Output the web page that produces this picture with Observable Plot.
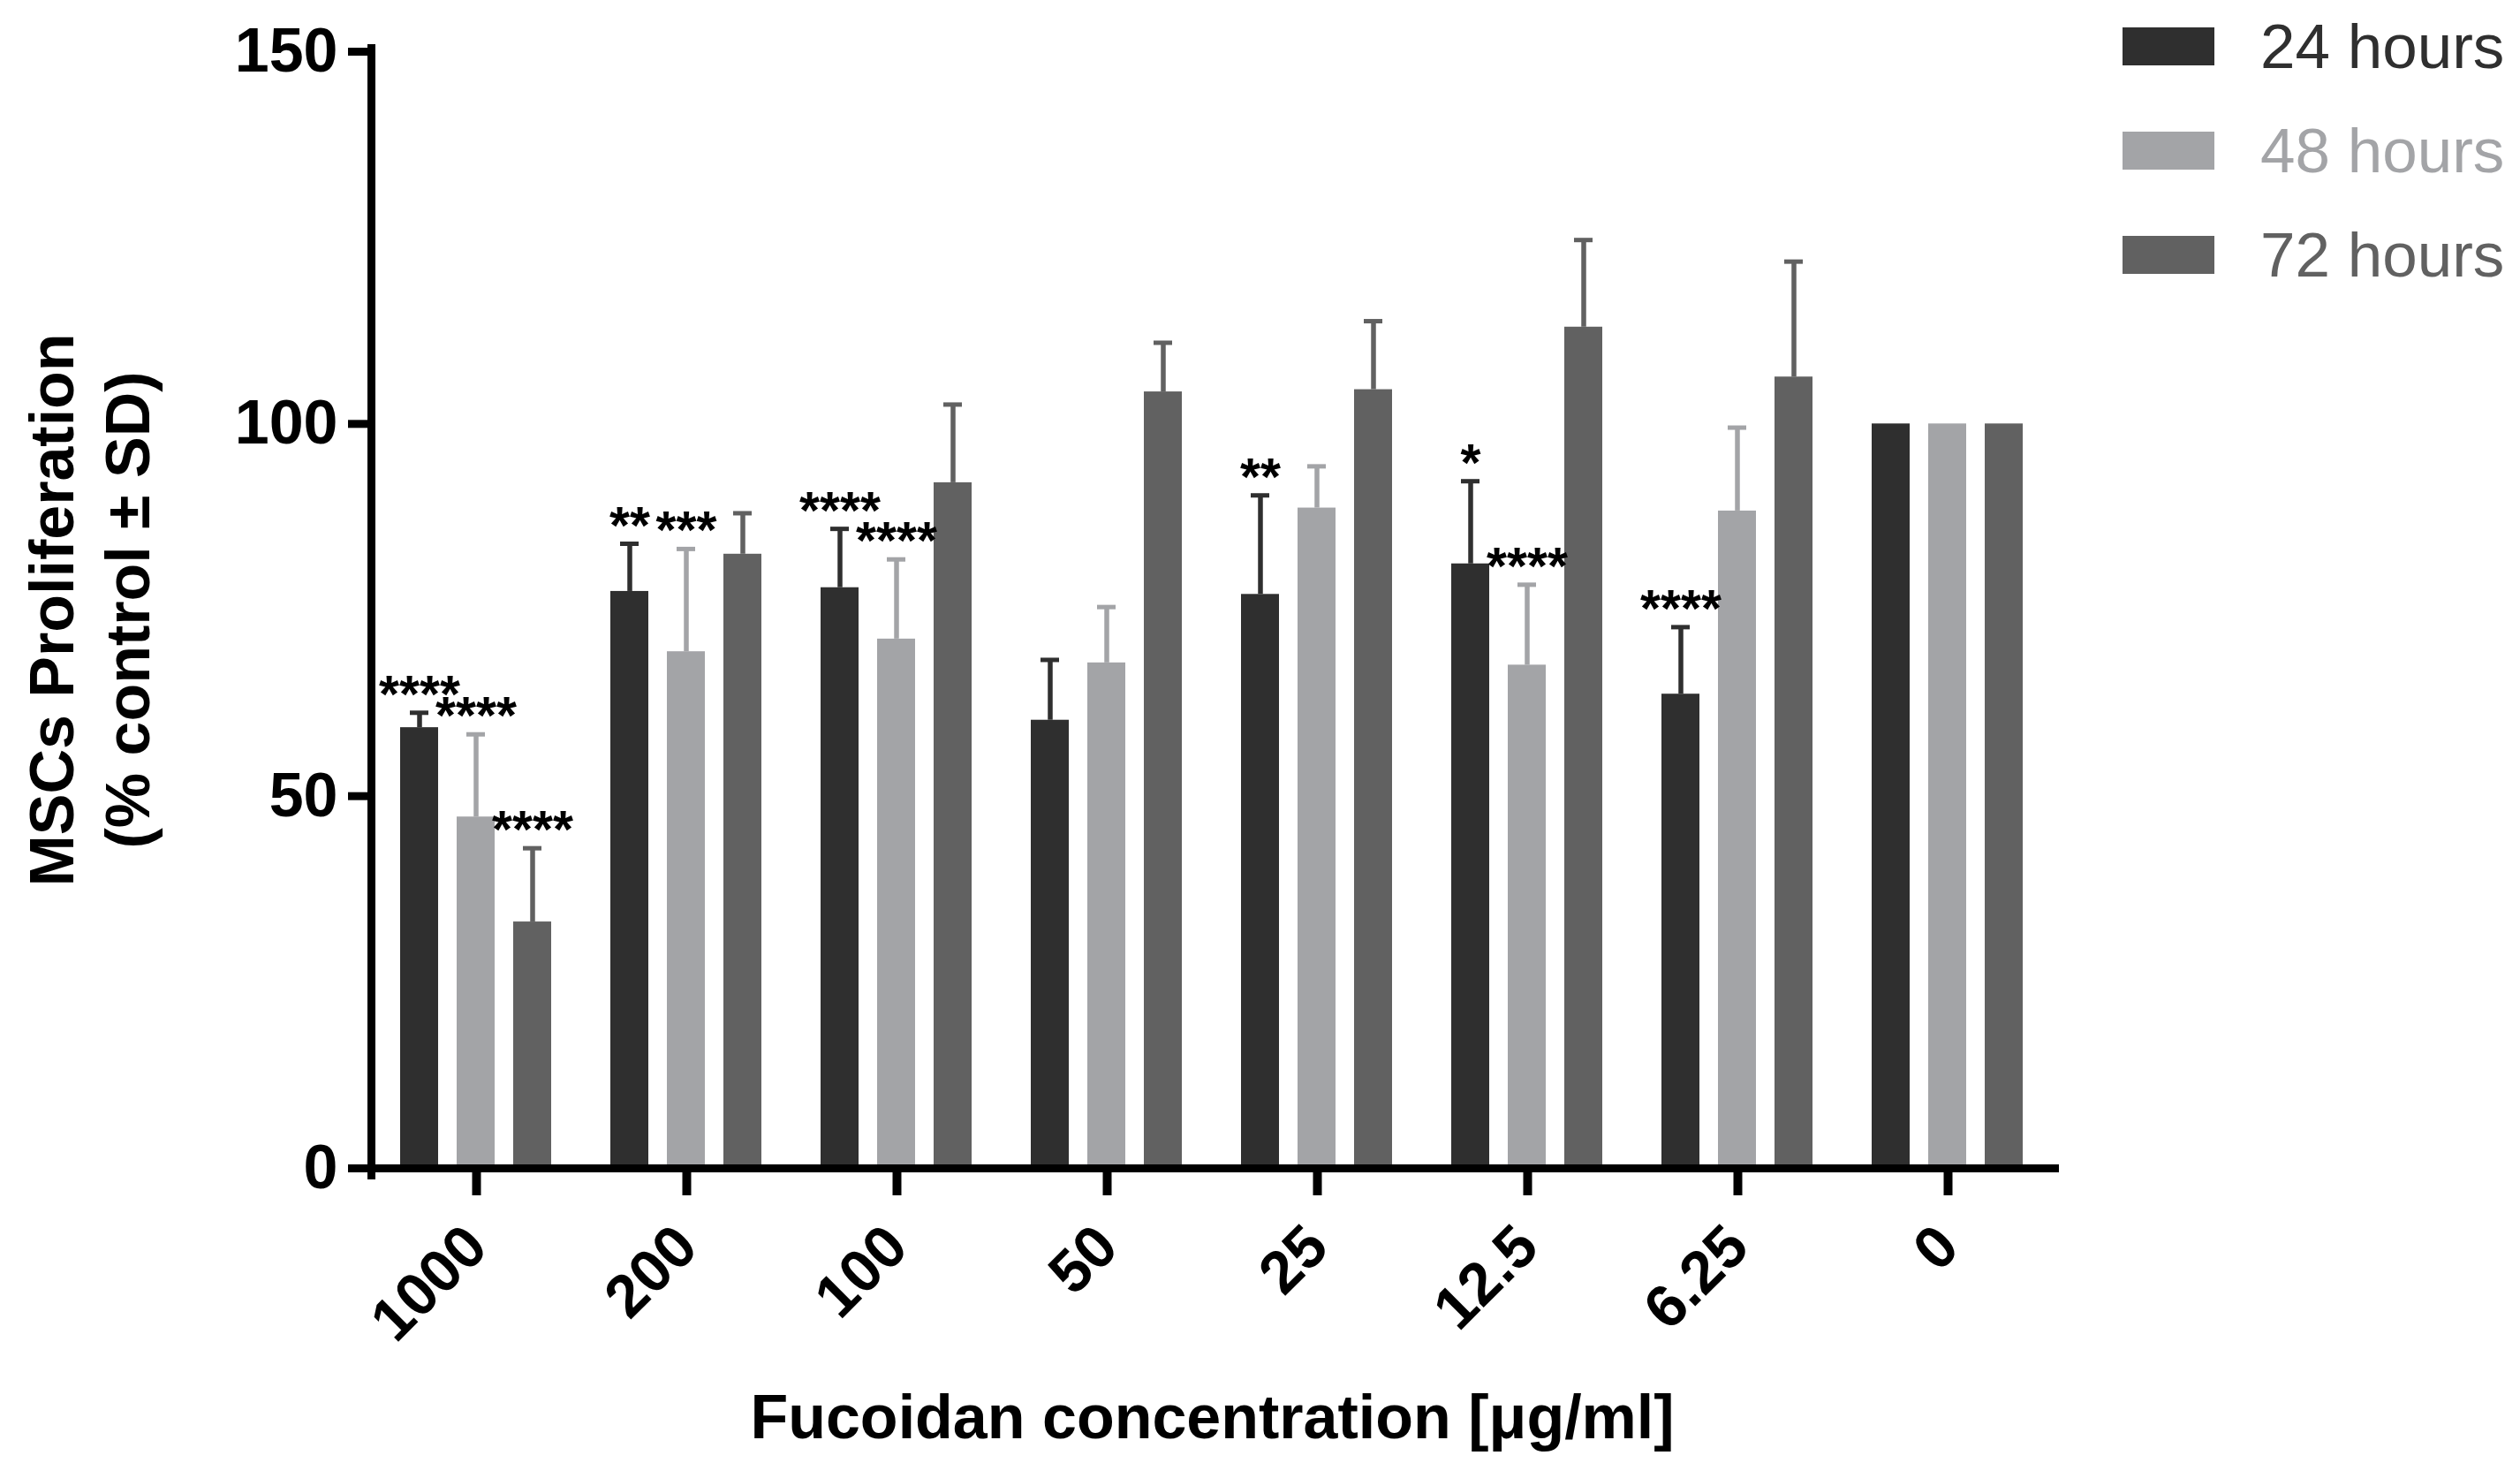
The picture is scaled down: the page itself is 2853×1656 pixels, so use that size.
<!DOCTYPE html>
<html>
<head>
<meta charset="utf-8">
<script src="https://cdn.jsdelivr.net/npm/d3@7"></script>
<script src="https://cdn.jsdelivr.net/npm/@observablehq/plot@0.6"></script>
<style>
  html, body { margin: 0; padding: 0; background: #fff; }
  #wrap { position: relative; width: 2853px; height: 1656px; }
  #legend { position: absolute; left: 2403px; top: 31px; font-family: 'Liberation Sans', Arial, sans-serif; }
  .row { display: flex; align-items: center; height: 43px; margin-bottom: 75px; }
  .sw { width: 104px; height: 43px; }
  .lab { margin-left: 52px; font-size: 71px; line-height: 43px; white-space: nowrap; }
</style>
</head>
<body>
<div id="wrap"><div id="legend"></div></div>
<script>
const concentrations = ["1000", "200", "100", "50", "25", "12.5", "6.25", "0"];
const series = ["24 hours", "48 hours", "72 hours"];
const colors = ["#2f2f2f", "#a3a4a7", "#616161"];

const mean24 = [59.2, 77.5, 78.0, 60.2, 77.1, 81.2, 63.7, 100];
const mean48 = [47.2, 69.4, 71.1, 67.9, 88.7, 67.6, 88.3, 100];
const mean72 = [33.1, 82.5, 92.1, 104.3, 104.6, 113.0, 106.3, 100];

const sd24 = [2.0, 6.4, 7.9, 8.1, 13.3, 11.1, 9.0, 0];
const sd48 = [11.1, 13.8, 10.7, 7.5, 5.6, 10.8, 11.2, 0];
const sd72 = [9.9, 5.5, 10.5, 6.6, 9.2, 11.7, 15.5, 0];

const stars24 = ["****", "**", "****", "", "**", "*", "****", ""];
const stars48 = ["****", "***", "****", "", "", "****", "", ""];
const stars72 = ["****", "", "", "", "", "", "", ""];

const yTicks = [0, 50, 100, 150];
const xLabel = "Fucoidan concentration [\u03bcg/ml]";
const yLabel = "MSCs Proliferation\n(% control \u00b1 SD)";

const means = [mean24, mean48, mean72];
const sds = [sd24, sd48, sd72];
const starSets = [stars24, stars48, stars72];

const rows = [];
concentrations.forEach((c, i) => {
  series.forEach((s, j) => {
    rows.push({conc: c, series: s, mean: means[j][i], sd: sds[j][i], stars: starSets[j][i]});
  });
});
const withErr = rows.filter(d => d.sd > 0);
const withStars = rows.filter(d => d.stars);
const errTop = d => d.mean + d.sd;

const font = "'Liberation Sans', Arial, sans-serif";

const chart = Plot.plot({
  width: 2853,
  height: 1656,
  marginLeft: 420,
  marginRight: 529,
  marginTop: 58,
  marginBottom: 334,
  style: {fontFamily: font, background: "white", color: "black"},
  fx: {domain: concentrations, padding: 0},
  x: {domain: series, paddingInner: 0.325, paddingOuter: 0.5, axis: null},
  y: {domain: [0, 150]},
  color: {domain: series, range: colors},
  marks: [
    Plot.barY(rows, {fx: "conc", x: "series", y: "mean", fill: "series"}),
    Plot.ruleX(withErr, {fx: "conc", x: "series", y1: "mean", y2: errTop, stroke: "series", strokeWidth: 5.5}),
    Plot.tickY(withErr, {fx: "conc", x: "series", y: errTop, stroke: "series", strokeWidth: 5, insetLeft: 11, insetRight: 11}),
    Plot.text(withStars, {fx: "conc", x: "series", y: errTop, text: "stars", fontSize: 59, fontWeight: "bold", lineAnchor: "bottom", dy: -1, fill: "black"}),
    Plot.frame({anchor: "left", facet: "super", stroke: "black", strokeWidth: 9, insetTop: -4, insetBottom: -8}),
    Plot.frame({anchor: "bottom", facet: "super", stroke: "black", strokeWidth: 9, insetLeft: -4, insetRight: -2}),
    Plot.axisY({ticks: yTicks, tickSize: 26, strokeWidth: 9, tickPadding: 12, fontSize: 70, fontWeight: "bold", label: null}),
    Plot.axisFx({anchor: "bottom", tickSize: 31, strokeWidth: 10, tickRotate: -45, tickPadding: 46, fontSize: 68, fontWeight: "bold", label: null}),
    Plot.text([yLabel], {text: d => d, facet: "super", frameAnchor: "left", rotate: -90, dx: -322, fontSize: 70, fontWeight: "bold", lineHeight: 1.22, textAnchor: "middle", lineAnchor: "middle", fill: "black"}),
    Plot.text([xLabel], {text: d => d, facet: "super", frameAnchor: "bottom", dy: 305, lineAnchor: "bottom", fontSize: 70, fontWeight: "bold", fill: "black"})
  ]
});
document.getElementById("wrap").prepend(chart);

const legend = document.getElementById("legend");
series.forEach((s, i) => {
  const row = document.createElement("div");
  row.className = "row";
  const sw = document.createElement("div");
  sw.className = "sw";
  sw.style.background = colors[i];
  const lab = document.createElement("div");
  lab.className = "lab";
  lab.style.color = colors[i];
  lab.textContent = s;
  row.appendChild(sw);
  row.appendChild(lab);
  legend.appendChild(row);
});
</script>
</body>
</html>
